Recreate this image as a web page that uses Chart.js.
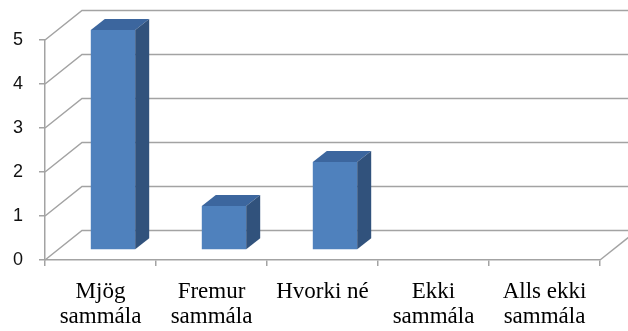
<!DOCTYPE html>
<html>
<head>
<meta charset="utf-8">
<script src="https://cdn.jsdelivr.net/npm/chart.js@4/dist/chart.umd.min.js"></script>
<style>
  html, body { margin: 0; padding: 0; background: #ffffff; }
  #c { display: block; }
</style>
</head>
<body>
<canvas id="c" width="628" height="331"></canvas>
<script>
// Survey answers: how many respondents chose each option
const categories = [
  ['Mjög', 'sammála'],
  ['Fremur', 'sammála'],
  ['Hvorki né'],
  ['Ekki', 'sammála'],
  ['Alls ekki', 'sammála']
];
const counts = [5, 1, 2, 0, 0];
const yTickValues = [0, 1, 2, 3, 4, 5];

// Oblique 3D look: back wall offset, bar row offset and bar depth (pixels)
const WALL = { dx: 37, dy: -29.5 };
const ROW = { dx: 12.5, dy: -10 };
const DEPTH = { dx: 14, dy: -11 };

const GRID = '#a3a3a3';
const FRONT = '#4f81bd';
const TOP = '#3c669e';
const SIDE = '#31527c';

const wall3d = {
  id: 'wall3d',
  beforeDatasetsDraw(chart) {
    const { ctx, scales: { x, y } } = chart;
    ctx.save();
    ctx.strokeStyle = GRID;
    ctx.lineWidth = 1.5;
    // back wall gridlines with the diagonals joining them to the front axis
    yTickValues.forEach(v => {
      const yf = y.getPixelForValue(v);
      ctx.beginPath();
      ctx.moveTo(x.left, yf);
      ctx.lineTo(x.left + WALL.dx, yf + WALL.dy);
      ctx.lineTo(chart.width + 20, yf + WALL.dy);
      ctx.stroke();
    });
    // right floor edge
    const yb = y.getPixelForValue(0);
    ctx.beginPath();
    ctx.moveTo(x.right, yb);
    ctx.lineTo(x.right + WALL.dx, yb + WALL.dy);
    ctx.stroke();
    ctx.restore();
    // bars are drawn one row back from the front plane
    ctx.save();
    ctx.translate(ROW.dx, ROW.dy);
  },
  afterDatasetsDraw(chart) {
    const { ctx } = chart;
    const meta = chart.getDatasetMeta(0);
    meta.data.forEach((bar, i) => {
      if (!counts[i]) return;
      const p = bar.getProps(['x', 'y', 'base', 'width'], true);
      const x1 = p.x - p.width / 2, x2 = p.x + p.width / 2;
      const top = Math.min(p.y, p.base), base = Math.max(p.y, p.base);
      // top face
      ctx.fillStyle = TOP;
      ctx.beginPath();
      ctx.moveTo(x1, top);
      ctx.lineTo(x2, top);
      ctx.lineTo(x2 + DEPTH.dx, top + DEPTH.dy);
      ctx.lineTo(x1 + DEPTH.dx, top + DEPTH.dy);
      ctx.closePath();
      ctx.fill();
      // side face
      ctx.fillStyle = SIDE;
      ctx.beginPath();
      ctx.moveTo(x2, top);
      ctx.lineTo(x2 + DEPTH.dx, top + DEPTH.dy);
      ctx.lineTo(x2 + DEPTH.dx, base + DEPTH.dy);
      ctx.lineTo(x2, base);
      ctx.closePath();
      ctx.fill();
    });
    ctx.restore();
  }
};

new Chart(document.getElementById('c'), {
  type: 'bar',
  data: {
    labels: categories,
    datasets: [{
      data: counts,
      backgroundColor: FRONT,
      borderWidth: 0,
      categoryPercentage: 1,
      barPercentage: 0.4,
      clip: false
    }]
  },
  options: {
    responsive: false,
    animation: false,
    devicePixelRatio: 1,
    layout: { padding: { left: 0, right: 28, top: 40, bottom: 0 } },
    plugins: { legend: { display: false }, tooltip: { enabled: false } },
    scales: {
      x: {
        afterFit(s) { s.height = 71; },
        grid: { drawOnChartArea: false, color: GRID, lineWidth: 1.5, tickLength: 6, offset: true },
        border: { display: true, color: GRID, width: 1.5 },
        ticks: {
          color: '#000',
          padding: 14,
          maxRotation: 0,
          autoSkip: false,
          font: { family: '"Liberation Serif", "Times New Roman", serif', size: 23, lineHeight: 1.08 }
        }
      },
      y: {
        min: 0,
        max: 5,
        afterFit(s) { s.width = 45; },
        afterBuildTicks(s) { s.ticks = yTickValues.map(v => ({ value: v })); },
        grid: { drawOnChartArea: false, color: GRID, lineWidth: 1.5, tickLength: 6 },
        border: { display: true, color: GRID, width: 1.5 },
        ticks: {
          color: '#111',
          padding: 16,
          font: { family: '"Liberation Sans", Arial, sans-serif', size: 18 }
        }
      }
    }
  },
  plugins: [wall3d]
});
</script>
</body>
</html>
